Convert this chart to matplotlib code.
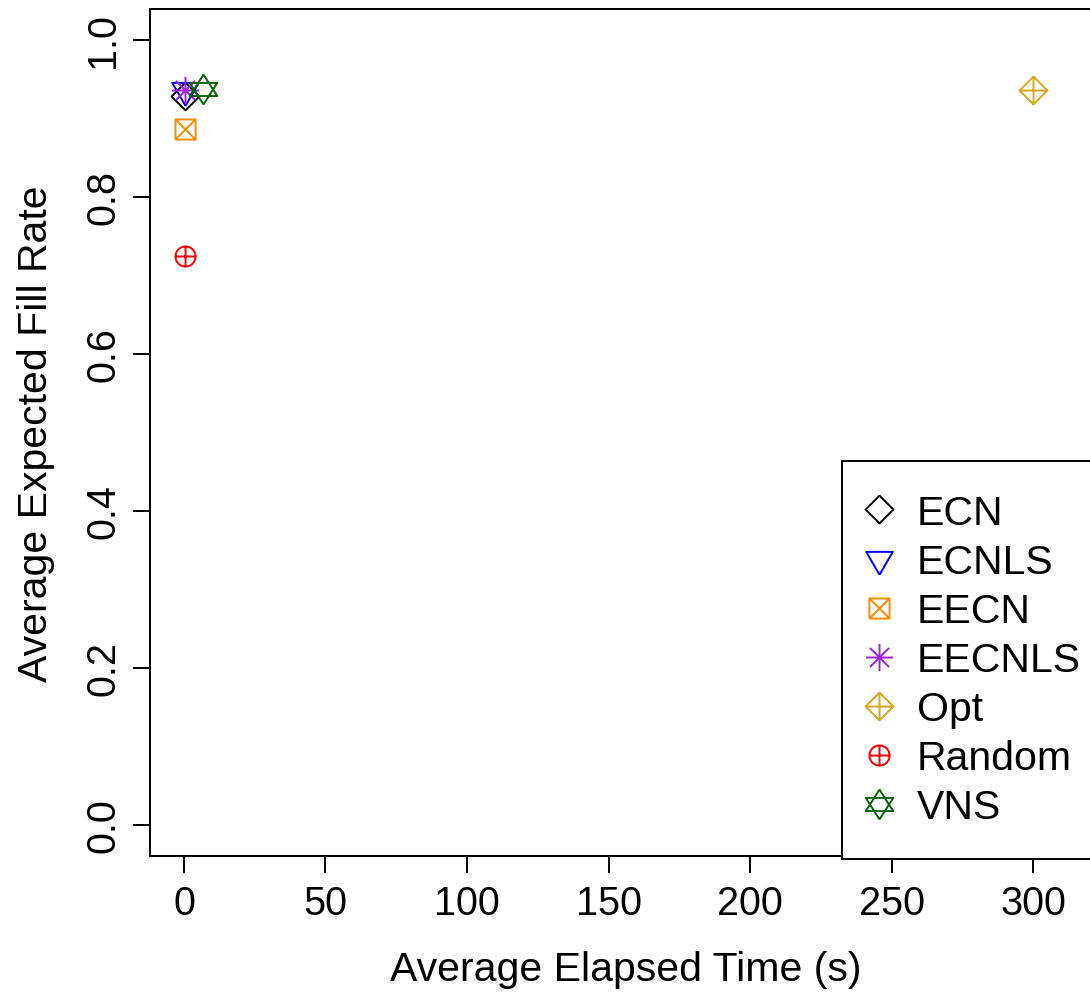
import numpy as np
import matplotlib
matplotlib.use("Agg")
import matplotlib.pyplot as plt
from matplotlib.path import Path
from matplotlib.lines import Line2D

plt.rcParams["font.family"] = ["Liberation Sans", "DejaVu Sans"]

methods = ["ECN", "ECNLS", "EECN", "EECNLS", "Opt", "Random", "VNS"]
elapsed = [0.3, 0.5, 0.3, 0.5, 300.0, 0.3, 6.7]
fill_rate = [0.929, 0.936, 0.887, 0.936, 0.936, 0.725, 0.937]
colors = ["black", "blue", "darkorange", "#A020F0", "goldenrod", "red", "darkgreen"]


def seg(*pts):
    # open polyline or closed polygon as path pieces
    verts = list(pts)
    codes = [Path.MOVETO] + [Path.LINETO] * (len(verts) - 1)
    return verts, codes


def join(*parts):
    v, c = [], []
    for pv, pc in parts:
        v += pv; c += pc
    return Path(v, c)


diamond = seg((0, 1), (1, 0), (0, -1), (-1, 0), (0, 1))
tri_down = seg((0, -1), (0.866, 0.5), (-0.866, 0.5), (0, -1))
square = seg((-1, -1), (1, -1), (1, 1), (-1, 1), (-1, -1))
plus = [seg((-1, 0), (1, 0)), seg((0, -1), (0, 1))]
cross = [seg((-1, -1), (1, 1)), seg((-1, 1), (1, -1))]
diag = [seg((-0.707, -0.707), (0.707, 0.707)), seg((-0.707, 0.707), (0.707, -0.707))]
circ = Path.unit_circle()
circle = (list(map(tuple, circ.vertices)), list(circ.codes))

# R-style plotting symbols: (path, marker size in points)
pch = {
    "ECN": (join(diamond), 20),
    "ECNLS": (join(tri_down), 22),
    "EECN": (join(square, *cross), 14.5),
    "EECNLS": (join(*plus, *diag), 19.5),
    "Opt": (join(diamond, *plus), 20),
    "Random": (join(circle, *plus), 14.5),
    "VNS": (join(seg((0, 1), (0.92, -0.44), (-0.92, -0.44), (0, 1)),
                 seg((0, -1), (0.92, 0.44), (-0.92, 0.44), (0, -1))), 21.5),
}

fig = plt.figure(figsize=(10.9, 9.95), dpi=100)
ax = fig.add_axes([150 / 1090, 138 / 995, 951 / 1090, 847.5 / 995])

handles = []
for name, x, y, c in zip(methods, elapsed, fill_rate, colors):
    m, ms = pch[name]
    ax.plot([x], [y], ls="none", marker=m, ms=ms, mfc="none", mec=c, mew=1.4)
    handles.append(Line2D([], [], ls="none", marker=m, ms=ms, mfc="none", mec=c, mew=1.4))

ax.set_xlim(-12, 324)
ax.set_ylim(-0.04, 1.04)
ax.set_xticks([0, 50, 100, 150, 200, 250, 300])
ax.set_yticks([0.0, 0.2, 0.4, 0.6, 0.8, 1.0])
ax.set_yticklabels(["0.0", "0.2", "0.4", "0.6", "0.8", "1.0"], rotation=90, va="center")
ax.tick_params(labelsize=28.5, length=12, width=1.4, pad=8)
for s in ax.spines.values():
    s.set_linewidth(1.4)
ax.set_xlabel("Average Elapsed Time (s)", fontsize=29.5, labelpad=20)
ax.set_ylabel("Average Expected Fill Rate", fontsize=29.5, labelpad=21)

leg = ax.legend(handles, methods, loc="upper left", bbox_to_anchor=(842 / 1090, 1 - 462 / 995),
                bbox_transform=fig.transFigure, fontsize=29.5, frameon=True, fancybox=False,
                framealpha=1, edgecolor="black", borderpad=0.8, labelspacing=0.27,
                handlelength=0.2, handletextpad=0.83, borderaxespad=0)
leg.get_frame().set_linewidth(1.4)

fig.savefig("out.png", dpi=100)
